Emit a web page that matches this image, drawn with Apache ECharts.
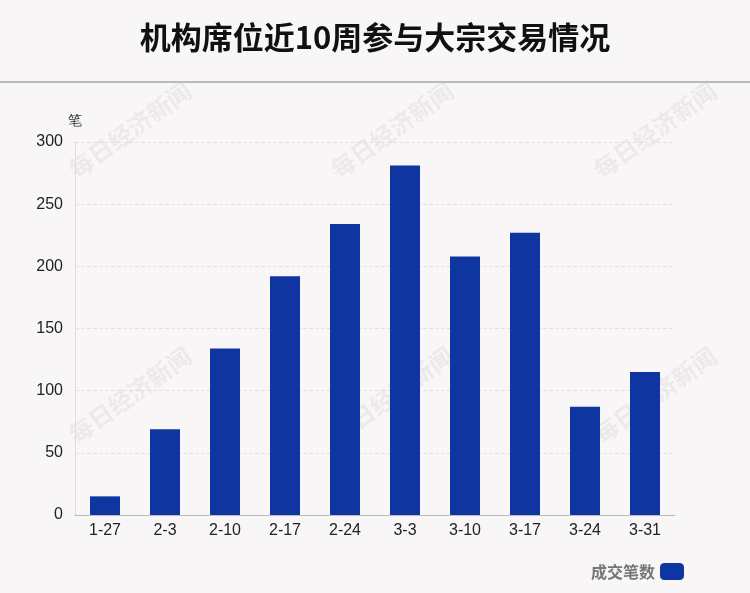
<!DOCTYPE html>
<html><head><meta charset="utf-8">
<script src="https://cdn.jsdelivr.net/npm/echarts@6/dist/echarts.min.js"></script>
<style>html,body{margin:0;padding:0;background:#f9f6f7}#c{width:750px;height:593px}</style>
</head><body><div id="c"></div>
<script>
const categories=['1-27','2-3','2-10','2-17','2-24','3-3','3-10','3-17','3-24','3-31'];
const counts=[15,69,134,192,234,281,208,227,87,115];
const yTicks=[0,50,100,150,200,250,300];
const chart=echarts.init(document.getElementById('c'));
const wm=[[130,130],[392,130],[655,130],[130,395],[392,395],[655,395]].map(p=>({
 type:'text',x:p[0],y:p[1],rotation:Math.PI/5,origin:[0,0],
 style:{text:'每日经济新闻',fill:'rgba(200,200,200,0.28)',font:'bold 24px "Noto Sans CJK SC"',align:'center',verticalAlign:'middle'},z:-1}));
chart.setOption({
 backgroundColor:'#f9f6f7',
 title:{text:'机构席位近10周参与大宗交易情况',left:'center',top:17,textStyle:{fontSize:31,fontWeight:'bold',color:'#111',fontFamily:'"Noto Sans CJK SC"'}},
 graphic:[{type:'line',shape:{x1:0,y1:82,x2:750,y2:82},style:{stroke:'#bbb',lineWidth:2}}].concat(wm),
 grid:{left:75,right:75,top:142,bottom:78},
 legend:{right:61,bottom:8,itemWidth:24,itemHeight:17,textStyle:{fontSize:16,fontWeight:'bold',color:'#777',fontFamily:'"Noto Sans CJK SC"'},data:['成交笔数'],align:'right',icon:'roundRect'},
 xAxis:{type:'category',data:categories,axisTick:{show:false},axisLine:{lineStyle:{color:'#bbb'}},axisLabel:{color:'#222',fontSize:16,margin:8}},
 yAxis:{type:'value',min:0,max:300,interval:50,name:'笔',nameLocation:'end',nameGap:14,nameTextStyle:{color:'#333',fontSize:14,align:'center',padding:[0,0,0,0]},
  axisLine:{show:true,lineStyle:{color:'#ddd'}},axisLabel:{color:'#222',fontSize:16,margin:12,formatter:v=>yTicks.includes(v)?v:''},
  splitLine:{lineStyle:{type:'dashed',color:'#e4e0e2'}}},
 series:[{name:'成交笔数',type:'bar',data:counts,barWidth:30,itemStyle:{color:'#0e35a0'}}]
});
</script></body></html>
